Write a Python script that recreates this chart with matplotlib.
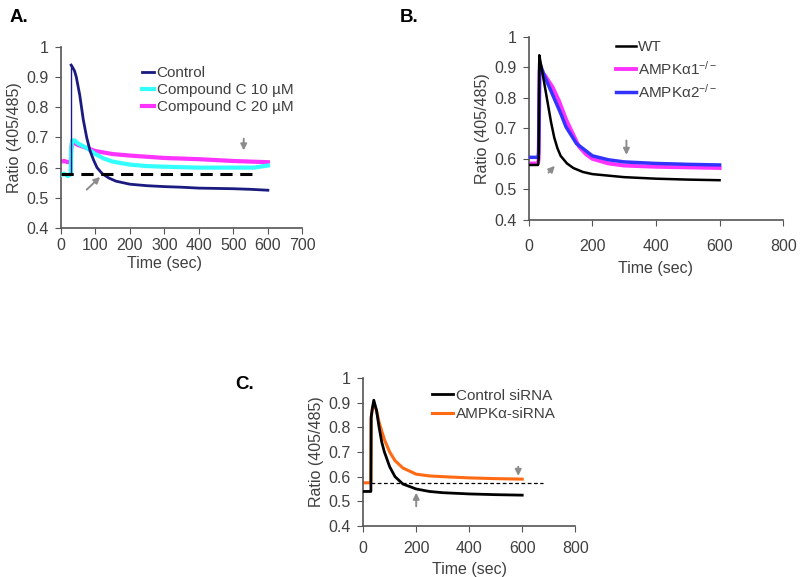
import matplotlib.pyplot as plt

plt.rcParams['font.family'] = ['Liberation Sans', 'DejaVu Sans']
plt.rcParams['mathtext.fontset'] = 'custom'
plt.rcParams['mathtext.rm'] = 'Liberation Sans'
plt.rcParams['mathtext.it'] = 'Liberation Sans'

# ---- panel A data ----
a_ctrl_t = [30, 33, 40, 45, 55, 65, 75, 85, 95, 105, 120, 140, 160, 200, 250, 300, 350, 400, 450, 500, 550, 600]
a_ctrl_y = [0.94, 0.935, 0.92, 0.90, 0.84, 0.76, 0.70, 0.655, 0.625, 0.60, 0.58, 0.565, 0.555, 0.545,
            0.54, 0.537, 0.535, 0.532, 0.531, 0.53, 0.528, 0.525]
a_c10_t = [0, 10, 20, 29, 30, 33, 40, 50, 75, 100, 125, 150, 200, 250, 300, 400, 500, 560, 600]
a_c10_y = [0.575, 0.58, 0.572, 0.578, 0.66, 0.69, 0.69, 0.68, 0.665, 0.645, 0.63, 0.62, 0.61,
           0.605, 0.603, 0.60, 0.60, 0.60, 0.607]
a_c20_t = [0, 10, 20, 29, 30, 33, 50, 100, 150, 200, 300, 400, 500, 600]
a_c20_y = [0.62, 0.622, 0.618, 0.62, 0.66, 0.685, 0.675, 0.655, 0.645, 0.64, 0.632, 0.628, 0.622, 0.618]
a_ref_t = [0, 555]
a_ref_y = [0.58, 0.58]

# ---- panel B data ----
b_wt_t = [0, 29, 31, 33, 40, 50, 60, 70, 80, 90, 100, 120, 140, 170, 200, 250, 300, 400, 500, 600]
b_wt_y = [0.58, 0.58, 0.60, 0.94, 0.90, 0.84, 0.78, 0.72, 0.67, 0.635, 0.61, 0.585, 0.57, 0.557,
          0.55, 0.545, 0.54, 0.535, 0.532, 0.53]
b_a1_t = [0, 29, 31, 34, 50, 75, 95, 117, 135, 158, 180, 200, 250, 300, 400, 500, 600]
b_a1_y = [0.585, 0.585, 0.60, 0.89, 0.875, 0.835, 0.79, 0.73, 0.69, 0.64, 0.615, 0.60, 0.585,
          0.578, 0.574, 0.572, 0.57]
b_a2_t = [0, 29, 31, 34, 50, 75, 100, 117, 150, 200, 250, 300, 400, 500, 600]
b_a2_y = [0.605, 0.605, 0.62, 0.915, 0.87, 0.81, 0.75, 0.705, 0.65, 0.61, 0.597, 0.59, 0.585, 0.582, 0.58]

# ---- panel C data ----
c_ctrl_t = [0, 29, 30, 35, 40, 50, 60, 70, 80, 100, 120, 150, 200, 250, 300, 400, 500, 600]
c_ctrl_y = [0.54, 0.54, 0.84, 0.88, 0.91, 0.87, 0.80, 0.74, 0.70, 0.64, 0.60, 0.57, 0.55, 0.54,
            0.535, 0.53, 0.527, 0.525]
c_si_t = [0, 29, 30, 35, 40, 50, 60, 80, 100, 120, 150, 200, 250, 300, 400, 500, 600]
c_si_y = [0.575, 0.575, 0.84, 0.88, 0.89, 0.87, 0.82, 0.75, 0.70, 0.665, 0.635, 0.61, 0.603,
          0.60, 0.595, 0.592, 0.59]
c_ref_t = [30, 680]
c_ref_y = [0.575, 0.575]

grey = '#404040'
arrow_col = '#8c8c8c'

fig = plt.figure(figsize=(8, 5.77), dpi=100)


def style(ax, xmax, xstep, xpad, labpad):
    ax.set_xlim(0, xmax)
    ax.set_ylim(0.4, 1.0)
    ax.set_xticks(range(0, xmax + 1, xstep))
    ax.set_yticks([0.4, 0.5, 0.6, 0.7, 0.8, 0.9, 1.0])
    ax.set_yticklabels(['0.4', '0.5', '0.6', '0.7', '0.8', '0.9', '1'])
    for s in ['top', 'right']:
        ax.spines[s].set_visible(False)
    for s in ['left', 'bottom']:
        ax.spines[s].set_color('#555555')
        ax.spines[s].set_linewidth(1.2)
    ax.tick_params(direction='out', length=4, color='#555555', labelsize=11.5, labelcolor=grey)
    ax.tick_params(axis='x', pad=xpad)
    ax.tick_params(axis='y', pad=5)
    ax.set_xlabel('Time (sec)', fontsize=11.5, color=grey, labelpad=labpad)
    ax.set_ylabel('Ratio (405/485)', fontsize=11.5, color=grey, labelpad=3)


def arrow(ax, x0, y0, x1, y1):
    ax.annotate('', xy=(x1, y1), xytext=(x0, y0),
                arrowprops=dict(arrowstyle='-|>', color=arrow_col, lw=1.4, mutation_scale=9,
                                shrinkA=0, shrinkB=0))


# panel A
axA = fig.add_axes([0.076, 0.605, 0.302, 0.3135])
axA.plot(a_c20_t, a_c20_y, color='#ff33ff', lw=3, label='Compound C 20 µM', zorder=2)
axA.plot(a_c10_t, a_c10_y, color='#33ffff', lw=3, label='Compound C 10 µM', zorder=3)
axA.plot(a_ctrl_t, a_ctrl_y, color='#1a1a80', lw=2, label='Control', zorder=4)
axA.plot([30, 30], [0.58, 0.94], color='#1a1a80', lw=1, zorder=4)
axA.plot(a_ref_t, a_ref_y, color='black', lw=2.2, ls=(0, (4, 2.5)), zorder=5)
arrow(axA, 75, 0.527, 114, 0.569)
arrow(axA, 530, 0.696, 530, 0.657)
style(axA, 700, 100, 3, 2)
axA.xaxis.set_label_coords(0.43, -0.155)
h, l = axA.get_legend_handles_labels()
axA.legend(h[::-1], l[::-1], loc='upper left', bbox_to_anchor=(0.28, 0.97), frameon=False,
           fontsize=11, handlelength=0.8, handletextpad=0.15, labelspacing=0.2, labelcolor=grey)
fig.text(0.0125, 0.962, 'A.', fontsize=13.5, fontweight='bold', va='baseline')

# panel B
axB = fig.add_axes([0.661, 0.619, 0.318, 0.317])
axB.plot(b_a1_t, b_a1_y, color='#ff33ff', lw=2.8, label='AMPKα1$^{-/-}$', zorder=2)
axB.plot(b_a2_t, b_a2_y, color='#3333ff', lw=2.5, label='AMPKα2$^{-/-}$', zorder=3)
axB.plot(b_wt_t, b_wt_y, color='black', lw=1.8, label='WT', zorder=4)
arrow(axB, 62, 0.555, 82, 0.577)
arrow(axB, 307, 0.66, 307, 0.613)
style(axB, 800, 200, 10, 5)
h, l = axB.get_legend_handles_labels()
axB.legend([h[2], h[0], h[1]], [l[2], l[0], l[1]], loc='upper left', bbox_to_anchor=(0.33, 1.0),
           borderaxespad=0, borderpad=0.2, frameon=False, fontsize=11, handlelength=1.3,
           handletextpad=0.15, labelspacing=0.35, labelcolor=grey)
fig.text(0.5, 0.962, 'B.', fontsize=13.5, fontweight='bold', va='baseline')

# panel C
axC = fig.add_axes([0.454, 0.0884, 0.265, 0.2565])
axC.plot(c_si_t, c_si_y, color='#ff6a13', lw=2.2, label='AMPKα-siRNA', zorder=2)
axC.plot(c_ctrl_t, c_ctrl_y, color='black', lw=2, label='Control siRNA', zorder=3)
axC.plot(c_ref_t, c_ref_y, color='black', lw=0.9, ls=(0, (3, 2)), zorder=4)
arrow(axC, 200, 0.48, 200, 0.535)
arrow(axC, 585, 0.64, 585, 0.603)
style(axC, 800, 200, 7, 4)
h, l = axC.get_legend_handles_labels()
axC.legend(h[::-1], l[::-1], loc='upper left', bbox_to_anchor=(0.26, 1.02), frameon=False,
           fontsize=11, handlelength=1.4, handletextpad=0.15, labelspacing=0.3, labelcolor=grey)
fig.text(0.294, 0.326, 'C.', fontsize=13.5, fontweight='bold', va='baseline')

fig.savefig('out.png', dpi=100)
